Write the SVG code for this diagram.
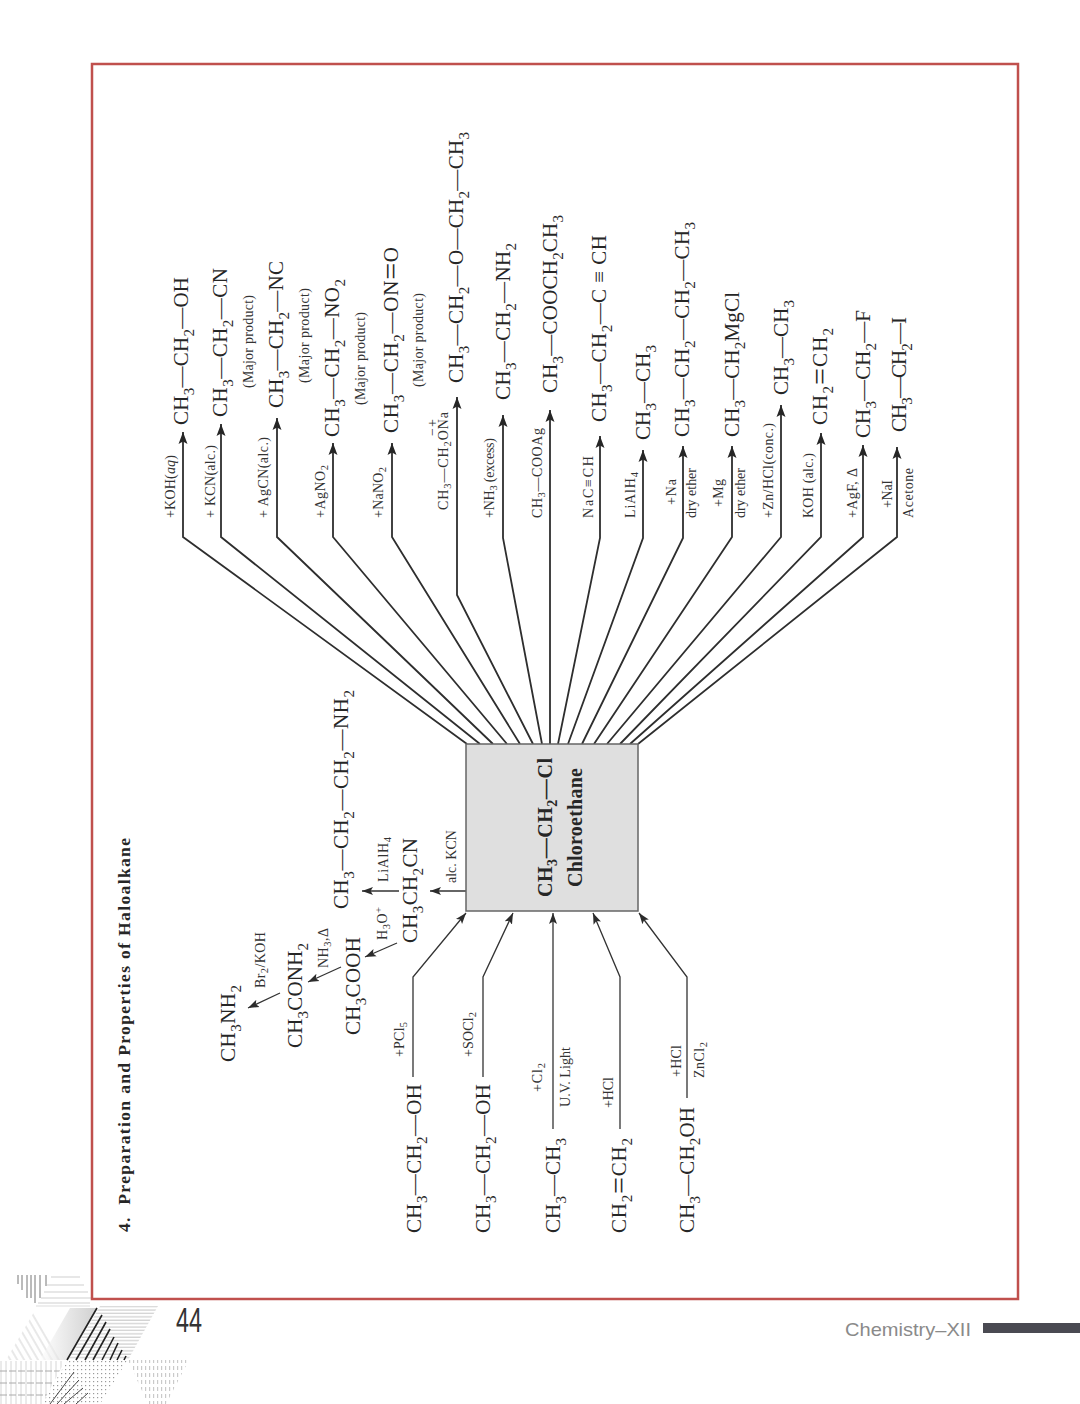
<svg xmlns="http://www.w3.org/2000/svg" width="1080" height="1404" viewBox="0 0 1080 1404">
<style>
text{font-family:"Liberation Serif","Times New Roman",serif;fill:#262626}
.f{font-size:21px}
.f tspan.s{font-size:15px}
.f tspan.e{font-size:30px}
.r{font-size:14px;fill:#333}
.r tspan.s{font-size:10.5px}
.m{font-size:14px;fill:#333}
.b{font-weight:bold;font-size:20px}
.b tspan.s{font-size:14px}
.c{fill:none;stroke:#2e2e2e;stroke-width:1.8}
.c2{fill:none;stroke:#333;stroke-width:1.3}
.box{fill:#dfdfdf;stroke:#666;stroke-width:1.5}
.frame{fill:none;stroke:#c0504d;stroke-width:2.5}
</style>
<defs>
<marker id="a" markerUnits="userSpaceOnUse" markerWidth="13" markerHeight="11" refX="12" refY="5.5" orient="auto"><path d="M0,1L12,5.5L0,10L2.6,5.5Z" fill="#262626"/></marker>
<marker id="a2" markerUnits="userSpaceOnUse" markerWidth="12" markerHeight="10" refX="11" refY="5" orient="auto"><path d="M0,1L11,5L0,9L2.4,5Z" fill="#2c2c2c"/></marker>
<pattern id="hl" width="8" height="3.4" patternUnits="userSpaceOnUse"><path d="M0,1H8" stroke="#c4c4c4" stroke-width="1"/></pattern>
<pattern id="dl" width="6" height="6" patternUnits="userSpaceOnUse" patternTransform="rotate(-30)"><path d="M1,0V6" stroke="#d2d2d2" stroke-width="1"/></pattern>
<pattern id="dt" width="4" height="4" patternUnits="userSpaceOnUse"><rect x="1" y="1" width="1.2" height="1.2" fill="#9a9a9a"/></pattern>
<pattern id="dt2" width="4" height="7" patternUnits="userSpaceOnUse"><rect x="1" y="1" width="1.2" height="4" fill="#cacaca"/></pattern>
<pattern id="vl" width="5" height="8" patternUnits="userSpaceOnUse"><path d="M1,0V8" stroke="#d6d6d6" stroke-width="1"/></pattern>
<pattern id="hd" width="9" height="12" patternUnits="userSpaceOnUse"><path d="M0,3H7" stroke="#aaa" stroke-width="1"/></pattern>
<linearGradient id="sh" x1="1" y1="0" x2="0" y2="0"><stop offset="0" stop-color="#b0b0b0"/><stop offset="1" stop-color="#fff"/></linearGradient>
</defs>
<rect width="1080" height="1404" fill="#fff"/>

<g id="decoration">
<path d="M18,1275V1284M22,1275V1290M27,1275V1298M31,1275V1298M35,1275V1303M40,1275V1298M46,1275V1286" stroke="#777" stroke-width="1"/>
<path d="M51,1277H80M47,1285H84M44,1292H88M41,1298H92M38,1303H90" stroke="#cfcfcf" stroke-width="1.2"/>
<path d="M36,1306H90" stroke="#ddd" stroke-width="1"/>
<polygon points="34,1312 65,1360 6,1360" fill="url(#dl)"/>
<polygon points="97,1308 67,1360 40,1360 70,1308" fill="url(#sh)" opacity=".6"/>
<polygon points="100,1306 158,1306 128,1360 68,1360" fill="url(#hl)"/>
<path d="M97,1308L67,1360M102,1315L76,1360M106,1322L85,1360M110,1329L93,1360M114,1337L102,1360M118,1343L110,1360M122,1350L117,1360M126,1356L124,1360" stroke="#222" stroke-width="1.6"/>
<polygon points="0,1361 65,1361 42,1404 0,1404" fill="url(#vl)"/>
<polygon points="0,1361 65,1361 42,1404 0,1404" fill="url(#hd)"/>
<polygon points="67,1361 127,1361 100,1404 42,1404" fill="url(#dt)"/>
<path d="M74,1372L50,1404M79,1380L57,1404M83,1388L64,1404M88,1393L76,1404" stroke="#333" stroke-width=".9"/>
<polygon points="128,1360 189,1360 166,1404 148,1404" fill="url(#dt2)"/>
</g>
<rect class="frame" x="92" y="64" width="926" height="1235"/>
<text id="page-number" x="176" y="1332" font-size="35" textLength="26" lengthAdjust="spacingAndGlyphs" style="font-family:'Liberation Sans',sans-serif;fill:#333">44</text>
<text id="footer" x="845" y="1336" font-size="19" textLength="126" lengthAdjust="spacingAndGlyphs" style="font-family:'Liberation Sans',sans-serif;fill:#8a8a8a">Chemistry–XII</text>
<rect x="983" y="1323" width="97" height="10" fill="#4a4a52"/>

<text id="title" class="b" style="font-size:17.5px" transform="translate(130,1232) rotate(-90)" textLength="394" xml:space="preserve">4.  Preparation and Properties of Haloalkane</text>

<g id="connectors">
<path class="c" marker-end="url(#a)" d="M467,744L183,537V432"/>
<path class="c" marker-end="url(#a)" d="M480,744L221,537V424"/>
<path class="c" marker-end="url(#a)" d="M493,744L277,537V418"/>
<path class="c" marker-end="url(#a)" d="M507,744L333,537V443"/>
<path class="c" marker-end="url(#a)" d="M520,744L392,537V443"/>
<path class="c" marker-end="url(#a)" d="M533,744L457,595V397"/>
<path class="c" marker-end="url(#a)" d="M542,744L503,538V415"/>
<path class="c" marker-end="url(#a)" d="M550,744V410"/>
<path class="c" marker-end="url(#a)" d="M558,744L600,538V436"/>
<path class="c" marker-end="url(#a)" d="M568,744L643,538V450"/>
<path class="c" marker-end="url(#a)" d="M582,744L683,538V446"/>
<path class="c" marker-end="url(#a)" d="M594,744L732,537V446"/>
<path class="c" marker-end="url(#a)" d="M607,744L781,537V405"/>
<path class="c" marker-end="url(#a)" d="M620,744L821,537V433"/>
<path class="c" marker-end="url(#a)" d="M630,744L863,537V445"/>
<path class="c" marker-end="url(#a)" d="M638,744L897,537V447"/>
<path class="c2" marker-end="url(#a2)" d="M466,891H430"/>
<path class="c2" marker-end="url(#a2)" d="M399,891H362"/>
<path class="c2" marker-end="url(#a2)" d="M397,943L365,957"/>
<path class="c2" marker-end="url(#a2)" d="M341,967L308,982"/>
<path class="c2" marker-end="url(#a2)" d="M280,993L248,1008"/>
<path class="c2" marker-end="url(#a2)" d="M413,1077V977L466,913"/>
<path class="c2" marker-end="url(#a2)" d="M483,1077V977L513,913"/>
<path class="c2" marker-end="url(#a2)" d="M553,1129V913"/>
<path class="c2" marker-end="url(#a2)" d="M620,1129V977L593,913"/>
<path class="c2" marker-end="url(#a2)" d="M687,1098V977L639,913"/>
</g>

<g id="chloroethane">
<rect class="box" x="466" y="744" width="172" height="167"/>
<text class="b" transform="translate(552,897) rotate(-90)" textLength="139">CH<tspan class="s" dy="5">3</tspan><tspan dy="-5">—</tspan>CH<tspan class="s" dy="5">2</tspan><tspan dy="-5">—</tspan>Cl</text>
<text class="b" transform="translate(582,887) rotate(-90)" textLength="119">Chloroethane</text>
</g>

<g id="products">
<g id="p1"><text class="f" transform="translate(188,425) rotate(-90)" textLength="148">CH<tspan class="s" dy="6">3</tspan><tspan dy="-6">—</tspan>CH<tspan class="s" dy="6">2</tspan><tspan dy="-6">—</tspan>OH</text></g>
<g id="p2"><text class="f" transform="translate(227,417) rotate(-90)" textLength="149">CH<tspan class="s" dy="6">3</tspan><tspan dy="-6">—</tspan>CH<tspan class="s" dy="6">2</tspan><tspan dy="-6">—</tspan>CN</text><text class="m" transform="translate(253,388) rotate(-90)" textLength="93">(Major product)</text></g>
<g id="p3"><text class="f" transform="translate(283,408) rotate(-90)" textLength="147">CH<tspan class="s" dy="6">3</tspan><tspan dy="-6">—</tspan>CH<tspan class="s" dy="6">2</tspan><tspan dy="-6">—</tspan>NC</text><text class="m" transform="translate(309,383) rotate(-90)" textLength="95">(Major product)</text></g>
<g id="p4"><text class="f" transform="translate(339,437) rotate(-90)" textLength="158">CH<tspan class="s" dy="6">3</tspan><tspan dy="-6">—</tspan>CH<tspan class="s" dy="6">2</tspan><tspan dy="-6">—</tspan>NO<tspan class="s" dy="6">2</tspan></text><text class="m" transform="translate(365,405) rotate(-90)" textLength="93">(Major product)</text></g>
<g id="p5"><text class="f" transform="translate(398,433) rotate(-90)" textLength="186">CH<tspan class="s" dy="6">3</tspan><tspan dy="-6">—</tspan>CH<tspan class="s" dy="6">2</tspan><tspan dy="-6">—</tspan>ON<tspan class="e" dy="3">=</tspan><tspan dy="-3">O</tspan></text><text class="m" transform="translate(423,387) rotate(-90)" textLength="94">(Major product)</text></g>
<g id="p6"><text class="f" transform="translate(463,383) rotate(-90)" textLength="251">CH<tspan class="s" dy="6">3</tspan><tspan dy="-6">—</tspan>CH<tspan class="s" dy="6">2</tspan><tspan dy="-6">—</tspan>O—CH<tspan class="s" dy="6">2</tspan><tspan dy="-6">—</tspan>CH<tspan class="s" dy="6">3</tspan></text></g>
<g id="p7"><text class="f" transform="translate(510,400) rotate(-90)" textLength="157">CH<tspan class="s" dy="6">3</tspan><tspan dy="-6">—</tspan>CH<tspan class="s" dy="6">2</tspan><tspan dy="-6">—</tspan>NH<tspan class="s" dy="6">2</tspan></text></g>
<g id="p8"><text class="f" transform="translate(557,393) rotate(-90)" textLength="178">CH<tspan class="s" dy="6">3</tspan><tspan dy="-6">—</tspan>COOCH<tspan class="s" dy="6">2</tspan><tspan dy="-6">CH</tspan><tspan class="s" dy="6">3</tspan></text></g>
<g id="p9"><text class="f" transform="translate(606,422) rotate(-90)" textLength="187">CH<tspan class="s" dy="6">3</tspan><tspan dy="-6">—</tspan>CH<tspan class="s" dy="6">2</tspan><tspan dy="-6">—</tspan>C ≡ CH</text></g>
<g id="p10"><text class="f" transform="translate(650,440) rotate(-90)" textLength="95">CH<tspan class="s" dy="6">3</tspan><tspan dy="-6">—</tspan>CH<tspan class="s" dy="6">3</tspan></text></g>
<g id="p11"><text class="f" transform="translate(689,437) rotate(-90)" textLength="215">CH<tspan class="s" dy="6">3</tspan><tspan dy="-6">—</tspan>CH<tspan class="s" dy="6">2</tspan><tspan dy="-6">—</tspan>CH<tspan class="s" dy="6">2</tspan><tspan dy="-6">—</tspan>CH<tspan class="s" dy="6">3</tspan></text></g>
<g id="p12"><text class="f" transform="translate(739,437) rotate(-90)" textLength="145">CH<tspan class="s" dy="6">3</tspan><tspan dy="-6">—</tspan>CH<tspan class="s" dy="6">2</tspan><tspan dy="-6">MgCl</tspan></text></g>
<g id="p13"><text class="f" transform="translate(788,395) rotate(-90)" textLength="95">CH<tspan class="s" dy="6">3</tspan><tspan dy="-6">—</tspan>CH<tspan class="s" dy="6">3</tspan></text></g>
<g id="p14"><text class="f" transform="translate(827,425) rotate(-90)" textLength="97">CH<tspan class="s" dy="6">2</tspan><tspan class="e" dy="-3">=</tspan><tspan dy="-3">CH</tspan><tspan class="s" dy="6">2</tspan></text></g>
<g id="p15"><text class="f" transform="translate(870,438) rotate(-90)" textLength="128">CH<tspan class="s" dy="6">3</tspan><tspan dy="-6">—</tspan>CH<tspan class="s" dy="6">2</tspan><tspan dy="-6">—</tspan>F</text></g>
<g id="p16"><text class="f" transform="translate(906,432) rotate(-90)" textLength="115">CH<tspan class="s" dy="6">3</tspan><tspan dy="-6">—</tspan>CH<tspan class="s" dy="6">2</tspan><tspan dy="-6">—</tspan>I</text></g>
</g>

<g id="chain">
<g id="c1"><text class="f" transform="translate(348,909) rotate(-90)" textLength="219">CH<tspan class="s" dy="6">3</tspan><tspan dy="-6">—</tspan>CH<tspan class="s" dy="6">2</tspan><tspan dy="-6">—</tspan>CH<tspan class="s" dy="6">2</tspan><tspan dy="-6">—</tspan>NH<tspan class="s" dy="6">2</tspan></text></g>
<g id="c2"><text class="f" transform="translate(417,943) rotate(-90)" textLength="105">CH<tspan class="s" dy="6">3</tspan><tspan dy="-6">CH</tspan><tspan class="s" dy="6">2</tspan><tspan dy="-6">CN</tspan></text></g>
<g id="c3"><text class="f" transform="translate(360,1035) rotate(-90)" textLength="98">CH<tspan class="s" dy="6">3</tspan><tspan dy="-6">COOH</tspan></text></g>
<g id="c4"><text class="f" transform="translate(302,1048) rotate(-90)" textLength="105">CH<tspan class="s" dy="6">3</tspan><tspan dy="-6">CONH</tspan><tspan class="s" dy="6">2</tspan></text></g>
<g id="c5"><text class="f" transform="translate(235,1062) rotate(-90)" textLength="77">CH<tspan class="s" dy="6">3</tspan><tspan dy="-6">NH</tspan><tspan class="s" dy="6">2</tspan></text></g>
</g>

<g id="reactants">
<g id="s1"><text class="f" transform="translate(421,1233) rotate(-90)" textLength="149">CH<tspan class="s" dy="6">3</tspan><tspan dy="-6">—</tspan>CH<tspan class="s" dy="6">2</tspan><tspan dy="-6">—</tspan>OH</text></g>
<g id="s2"><text class="f" transform="translate(490,1233) rotate(-90)" textLength="149">CH<tspan class="s" dy="6">3</tspan><tspan dy="-6">—</tspan>CH<tspan class="s" dy="6">2</tspan><tspan dy="-6">—</tspan>OH</text></g>
<g id="s3"><text class="f" transform="translate(560,1233) rotate(-90)" textLength="95">CH<tspan class="s" dy="6">3</tspan><tspan dy="-6">—</tspan>CH<tspan class="s" dy="6">3</tspan></text></g>
<g id="s4"><text class="f" transform="translate(626,1233) rotate(-90)" textLength="95">CH<tspan class="s" dy="6">2</tspan><tspan class="e" dy="-3">=</tspan><tspan dy="-3">CH</tspan><tspan class="s" dy="6">2</tspan></text></g>
<g id="s5"><text class="f" transform="translate(694,1233) rotate(-90)" textLength="126">CH<tspan class="s" dy="6">3</tspan><tspan dy="-6">—</tspan>CH<tspan class="s" dy="6">2</tspan><tspan dy="-6">OH</tspan></text></g>
</g>

<g id="labels">
<text class="r" transform="translate(175,518) rotate(-90)" textLength="63">+KOH(<tspan font-style="italic">aq</tspan>)</text>
<text class="r" transform="translate(215,518) rotate(-90)" textLength="73">+ KCN(alc.)</text>
<text class="r" transform="translate(268,518) rotate(-90)" textLength="81">+ AgCN(alc.)</text>
<text class="r" transform="translate(325,518) rotate(-90)" textLength="53">+AgNO<tspan class="s" dy="3">2</tspan></text>
<text class="r" transform="translate(383,518) rotate(-90)" textLength="51">+NaNO<tspan class="s" dy="3">2</tspan></text>
<text class="r" transform="translate(448,510) rotate(-90)" textLength="98">CH<tspan class="s" dy="3">3</tspan><tspan dy="-3">—</tspan>CH<tspan class="s" dy="3">2</tspan><tspan dy="-3">ONa</tspan></text>
<text class="r" transform="translate(437,436) rotate(-90)" textLength="17">− +</text>
<text class="r" transform="translate(494,518) rotate(-90)" textLength="80">+NH<tspan class="s" dy="3">3</tspan><tspan dy="-3"> (excess)</tspan></text>
<text class="r" transform="translate(542,518) rotate(-90)" textLength="90">CH<tspan class="s" dy="3">3</tspan><tspan dy="-3">—COOAg</tspan></text>
<text class="r" transform="translate(593,518) rotate(-90)" textLength="62">NaC≡CH</text>
<text class="r" transform="translate(635,518) rotate(-90)" textLength="46">LiAlH<tspan class="s" dy="3">4</tspan></text>
<text class="r" transform="translate(676,505) rotate(-90)" textLength="26">+Na</text>
<text class="r" transform="translate(696,518) rotate(-90)" textLength="50">dry ether</text>
<text class="r" transform="translate(723,507) rotate(-90)" textLength="28">+Mg</text>
<text class="r" transform="translate(745,518) rotate(-90)" textLength="50">dry ether</text>
<text class="r" transform="translate(773,518) rotate(-90)" textLength="95">+Zn/HCl(conc.)</text>
<text class="r" transform="translate(813,518) rotate(-90)" textLength="65">KOH (alc.)</text>
<text class="r" transform="translate(857,518) rotate(-90)" textLength="50">+AgF, Δ</text>
<text class="r" transform="translate(892,508) rotate(-90)" textLength="28">+NaI</text>
<text class="r" transform="translate(913,518) rotate(-90)" textLength="50">Acetone</text>
<text class="r" transform="translate(388,882) rotate(-90)" textLength="45">LiAlH<tspan class="s" dy="3">4</tspan></text>
<text class="r" transform="translate(456,883) rotate(-90)" textLength="53">alc. KCN</text>
<text class="r" transform="translate(387,940) rotate(-90)" textLength="33">H<tspan class="s" dy="3">3</tspan><tspan dy="-3">O</tspan><tspan class="s" dy="-5">+</tspan></text>
<text class="r" transform="translate(328,968) rotate(-90)" textLength="40">NH<tspan class="s" dy="3">3</tspan><tspan dy="-3">,Δ</tspan></text>
<text class="r" transform="translate(265,988) rotate(-90)" textLength="56">Br<tspan class="s" dy="3">2</tspan><tspan dy="-3">/KOH</tspan></text>
<text class="r" transform="translate(404,1057) rotate(-90)" textLength="35">+PCl<tspan class="s" dy="3">5</tspan></text>
<text class="r" transform="translate(473,1057) rotate(-90)" textLength="45">+SOCl<tspan class="s" dy="3">2</tspan></text>
<text class="r" transform="translate(542,1092) rotate(-90)" textLength="29">+Cl<tspan class="s" dy="3">2</tspan></text>
<text class="r" transform="translate(570,1107) rotate(-90)" textLength="60">U.V. Light</text>
<text class="r" transform="translate(613,1108) rotate(-90)" textLength="31">+HCl</text>
<text class="r" transform="translate(681,1077) rotate(-90)" textLength="32">+HCl</text>
<text class="r" transform="translate(704,1078) rotate(-90)" textLength="36">ZnCl<tspan class="s" dy="3">2</tspan></text>
</g>
</svg>
